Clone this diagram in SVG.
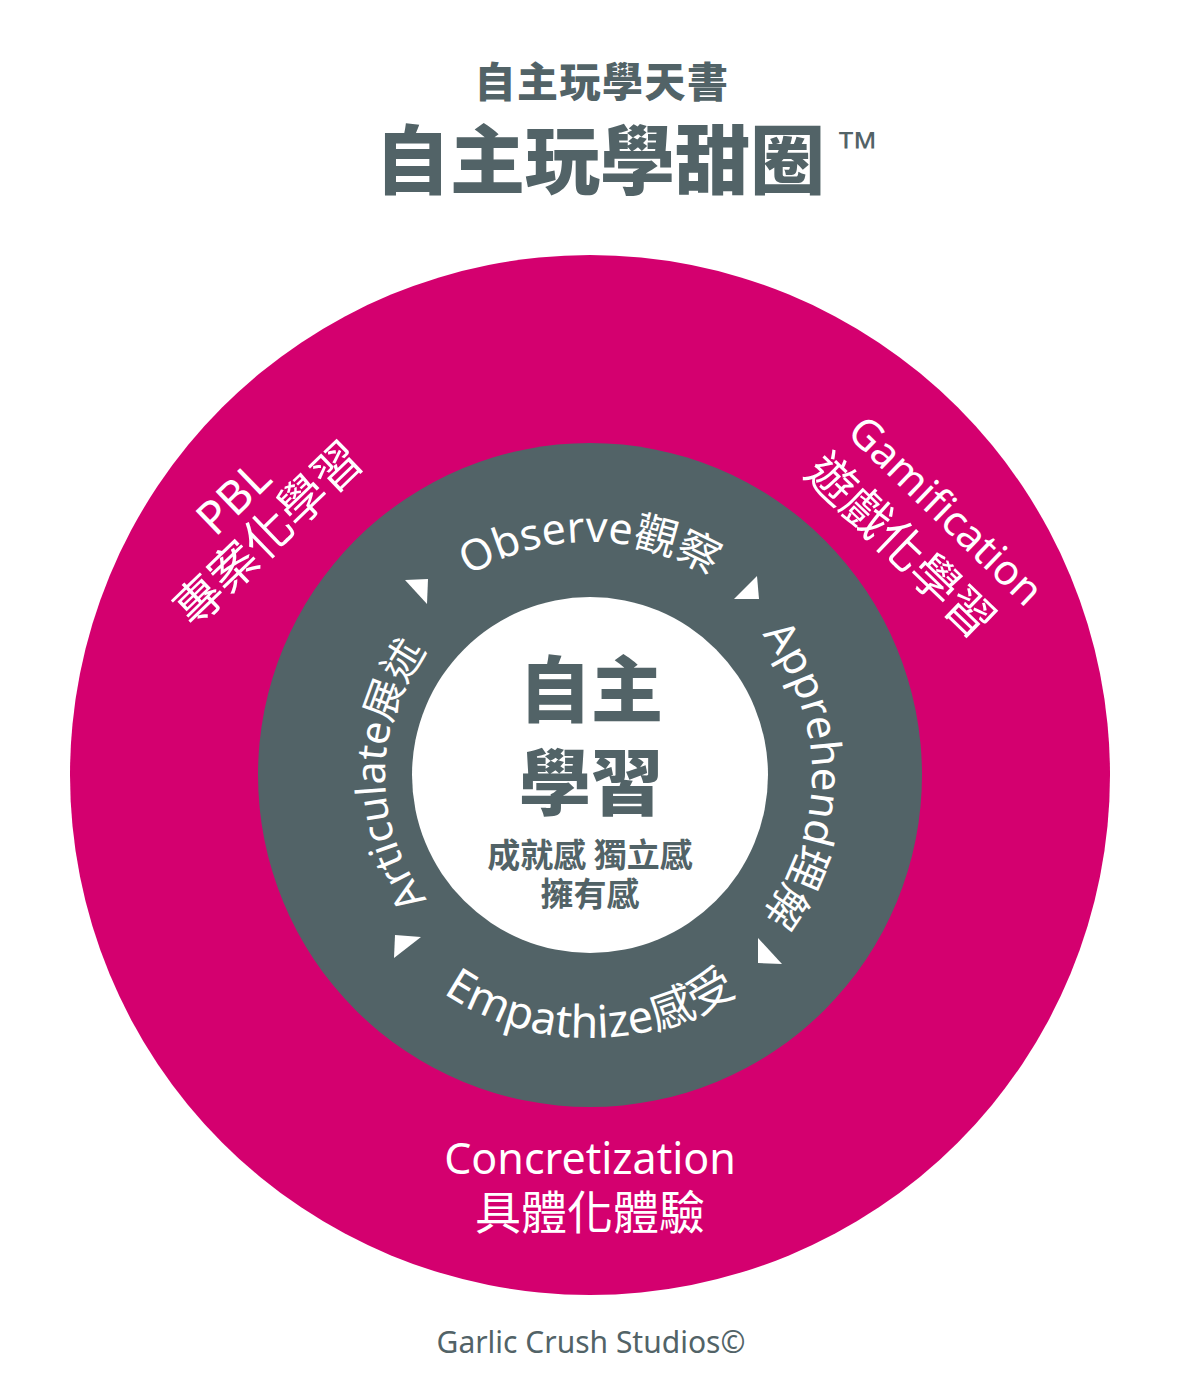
<svg xmlns="http://www.w3.org/2000/svg" xmlns:xlink="http://www.w3.org/1999/xlink" width="1181" height="1395" viewBox="0 0 1181 1395">
<style>
.gray{fill:#526367}
.mag{fill:#D4006F}
.wt{fill:#FFFFFF}
.cjkb{font-family:"Noto Sans CJK TC","Noto Sans",sans-serif;font-weight:900}
.cjkm{font-family:"Noto Sans CJK TC","Noto Sans",sans-serif;font-weight:700}
.ring{font-family:"Noto Sans","Noto Sans CJK TC",sans-serif;fill:#FFFFFF}
.outer{font-family:"Noto Sans","Noto Sans CJK TC",sans-serif;fill:#FFFFFF;text-anchor:middle}
</style>
<defs>
<path id="obsPath" d="M 357 775 A 233 233 0 0 1 823 775"/>
<path id="appPath" d="M 590 553 A 222 222 0 0 1 590 997"/>
<path id="empPath" d="M 327 775 A 263 263 0 0 0 853 775"/>
<path id="artPath" d="M 590 980 A 205 205 0 0 1 590 570"/>
</defs>
<rect x="0" y="0" width="1181" height="1395" fill="#FFFFFF"/>
<g id="title">
<text class="gray cjkb" x="602" y="97" font-size="41" text-anchor="middle" letter-spacing="1.5">自主玩學天書</text>
<text class="gray cjkb" x="600" y="188" font-size="75" text-anchor="middle">自主玩學甜圈</text>
<text class="gray" x="835" y="162" font-size="44" font-family="Liberation Sans, sans-serif">™</text>
</g>
<g id="outer-ring">
<circle cx="590" cy="775" r="520" class="mag"/>
</g>
<g id="inner-ring">
<circle cx="590" cy="775" r="332" class="gray"/>
</g>
<g id="core">
<circle cx="590" cy="775" r="178" class="wt"/>
<text class="gray cjkb" x="591" y="716" font-size="72" text-anchor="middle">自主</text>
<text class="gray cjkb" x="591" y="809" font-size="72" text-anchor="middle">學習</text>
<text class="gray cjkm" x="590" y="867" font-size="33" text-anchor="middle">成就感 獨立感</text>
<text class="gray cjkm" x="590" y="906" font-size="33" text-anchor="middle">擁有感</text>
</g>
<g id="pbl" transform="translate(280,546) rotate(-44)">
<text class="outer" x="0" y="-51" font-size="46">PBL</text>
<text class="outer" x="0" y="0" font-size="48">專案化學習</text>
</g>
<g id="gamification" transform="translate(889,558) rotate(44)">
<text class="outer" x="8" y="-59" font-size="42">Gamification</text>
<text class="outer" x="0" y="0" font-size="48">遊戲化學習</text>
</g>
<g id="concretization">
<text class="outer" x="590" y="1174" font-size="43">Concretization</text>
<text class="outer" x="590" y="1229" font-size="46">具體化體驗</text>
</g>
<g id="observe"><text class="ring" font-size="43"><textPath href="#obsPath" startOffset="50%" text-anchor="middle">Observe觀察</textPath></text></g>
<g id="apprehend"><text class="ring" font-size="42"><textPath href="#appPath" startOffset="50%" text-anchor="middle">Apprehend理解</textPath></text></g>
<g id="empathize"><text class="ring" font-size="45"><textPath href="#empPath" startOffset="50%" text-anchor="middle">Empathize感受</textPath></text></g>
<g id="articulate"><text class="ring" font-size="41"><textPath href="#artPath" startOffset="50%" text-anchor="middle">Articulate展述</textPath></text></g>
<g id="connectors" fill="#FFFFFF">
<polygon points="405,580 428,579 427,604"/>
<polygon points="757,576 734,599 759,599"/>
<polygon points="758,938 758,963 782,964"/>
<polygon points="395,935 421,937 394,958"/>
</g>
<g id="credit">
<text x="591" y="1353" font-size="30" text-anchor="middle" fill="#526367" font-family="'Noto Sans', sans-serif">Garlic Crush Studios©</text>
</g>
</svg>
